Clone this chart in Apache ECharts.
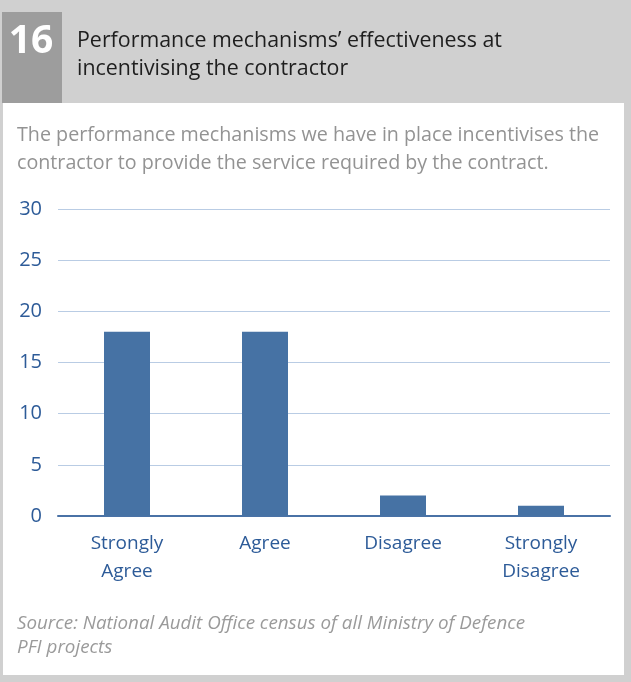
<!DOCTYPE html>
<html>
<head>
<meta charset="utf-8">
<script src="https://cdn.jsdelivr.net/npm/echarts@6/dist/echarts.min.js"></script>
<style>
  html, body { margin: 0; padding: 0; background: #d0d0d0; }
  #chart { width: 631px; height: 682px; }
</style>
</head>
<body>
<div id="chart"></div>
<script>
// Survey responses: number of MoD PFI projects per answer
const categories = ['Strongly\nAgree', 'Agree', 'Disagree', 'Strongly\nDisagree'];
const responses = [18, 18, 2, 1];
const yTicks = { min: 0, max: 30, interval: 5 };

const figureNumber = '16';
const titleLines = ['Performance mechanisms\u2019 effectiveness at', 'incentivising the contractor'];
const questionLines = ['The performance mechanisms we have in place incentivises the',
                       'contractor to provide the service required by the contract.'];
const sourceLines = ['Source: National Audit Office census of all Ministry of Defence', 'PFI projects'];

const FONT = '"Open Sans", Lato, sans-serif';
const BLUE_TEXT = '#2d5b98';
const BAR_BLUE = '#4672a4';

const chart = echarts.init(document.getElementById('chart'), null, { renderer: 'canvas' });

chart.setOption({
  backgroundColor: '#d0d0d0',
  animation: false,
  textStyle: { fontFamily: FONT },
  graphic: [
    // white panel holding the question and the chart
    { type: 'rect', z: -10, shape: { x: 3, y: 103, width: 621, height: 572 }, style: { fill: '#ffffff' } },
    // figure number box
    { type: 'rect', z: -5, shape: { x: 2, y: 12, width: 60, height: 91 }, style: { fill: '#9d9d9d' } },
    { type: 'text', x: 31, y: 42, style: { text: figureNumber, fill: '#ffffff', font: 'bold 39px ' + FONT, align: 'center', verticalAlign: 'middle' } },
    { type: 'text', x: 77, y: 41, style: { text: titleLines[0], fill: '#1e1e1e', font: '21.4px ' + FONT, verticalAlign: 'middle' } },
    { type: 'text', x: 77, y: 69, style: { text: titleLines[1], fill: '#1e1e1e', font: '21.4px ' + FONT, verticalAlign: 'middle' } },
    { type: 'text', x: 17, y: 135, style: { text: questionLines[0], fill: '#939393', font: '19.7px ' + FONT, verticalAlign: 'middle' } },
    { type: 'text', x: 17, y: 163, style: { text: questionLines[1], fill: '#939393', font: '19.7px ' + FONT, verticalAlign: 'middle' } },
    { type: 'text', x: 17, y: 624, style: { text: sourceLines[0], fill: '#9a9a9a', font: 'italic 18.8px ' + FONT, verticalAlign: 'middle' } },
    { type: 'text', x: 17, y: 648, style: { text: sourceLines[1], fill: '#9a9a9a', font: 'italic 18.8px ' + FONT, verticalAlign: 'middle' } }
  ],
  grid: { left: 58, right: 21, top: 209, bottom: 166, containLabel: false },
  xAxis: {
    type: 'category',
    data: categories,
    axisLine: { lineStyle: { color: '#4a72a6', width: 2 } },
    axisTick: { show: false },
    axisLabel: { color: BLUE_TEXT, fontSize: 19, lineHeight: 28, margin: 14, fontFamily: FONT }
  },
  yAxis: {
    type: 'value',
    min: yTicks.min,
    max: yTicks.max,
    interval: yTicks.interval,
    axisLine: { show: false },
    axisTick: { show: false },
    axisLabel: { color: BLUE_TEXT, fontSize: 20, margin: 16, fontFamily: FONT },
    splitLine: { lineStyle: { color: '#b9cce4', width: 1 } }
  },
  series: [{
    type: 'bar',
    data: responses,
    barWidth: 46,
    itemStyle: { color: BAR_BLUE }
  }]
});
</script>
</body>
</html>
